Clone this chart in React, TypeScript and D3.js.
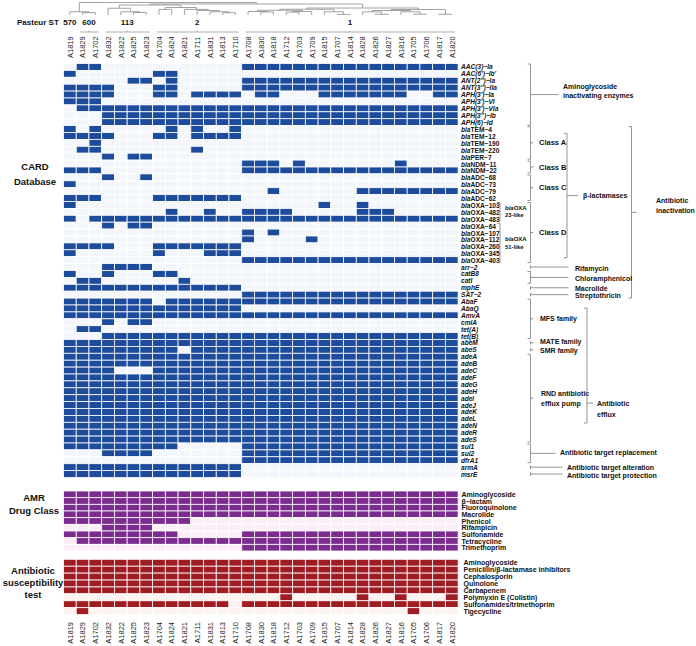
import React from 'react';
import * as d3 from 'd3';

const columns = ['A1819','A1829','A1702','A1832','A1822','A1825','A1823','A1704','A1824','A1821','A1711','A1831','A1813','A1710','A1708','A1830','A1818','A1712','A1703','A1709','A1815','A1707','A1814','A1828','A1826','A1827','A1816','A1705','A1706','A1817','A1820'];

const stLabels = ['570', '600', '113', '2', '1'];
const stFrom = [0, 1, 3, 7, 14];
const stTo = [0, 2, 6, 13, 30];

// dendrogram: [height, child, child] ; leaves are column indices
const dendrogram: any = [10,
  [2.6, 0, [1.9, 1, 2]],
  [8.8,
    [8.0,
      [5.4, 3, [2.6, 4, [2.0, 5, 6]]],
      [6.0, [4.5, 7, 8], [4.5, 9, [3.6, 10, [2.6, 11, [1.8, 12, 13]]]]]
    ],
    [5.6,
      [4.6, [3.8, [2.8, 14, [2.4, 15, 16]], [2.8, [2.3, 17, 18], 19]], [2.6, 20, [0.5, 21, 22]]],
      [4.4, [3.6, [2.5, 23, [0.6, 24, 25]], [2.6, 26, [0.7, 27, 28]]], [0.6, 29, 30]]
    ]
  ]
];

const cardGenes = [
  "AAC(3)−Ia","AAC(6')−Ib'","ANT(2'')−Ia","ANT(3'')−IIa","APH(3')−Ia","APH(3')−VI","APH(3')−VIa","APH(3'')−Ib","APH(6)−Id",
  "blaTEM−4","blaTEM−12","blaTEM−190","blaTEM−220","blaPER−7","blaNDM−11","blaNDM−22","blaADC−68","blaADC−73","blaADC−79","blaADC−62",
  "blaOXA−103","blaOXA−482","blaOXA−483","blaOXA−64","blaOXA−107","blaOXA−112","blaOXA−260","blaOXA−345","blaOXA−403",
  "arr−2","catB8","catI","mphE","SAT−2","AbaF","AbaQ","AmvA","cmlA","tet(A)","tet(B)","abeM","abeS","adeA","adeB","adeC",
  "adeF","adeG","adeH","adeI","adeJ","adeK","adeL","adeN","adeR","adeS","sul1","sul2","dfrA1","armA","msrE"
];

// present columns per gene (column index ranges)
const cardPresent = [
  "1-2,14-30","0,7-8","5-6,8,14-30","0-3,7-8,14-30","0-3,7-8,10-13,15-16,20-26,29-30","0-2","1-30","3-30","3-30",
  "0,2,8,10,13","0-3,7-8,10-13","2","1-2,10","3,5-6","14-16,18,26","0-2,14-30","3,6","0","16,23-30","0-2,7-13",
  "0,20,23","8,11,14-17,23-25","0,2-30","3,5-6","14,16","14,19","0-3,7-13","0,7,11-13","14-30",
  "3-6","0,3,7-8","1-2,9","0-13","14-30","0-6,8-30","0-13","0-30","3,5-6","1-2","3-30","0-30","0-8,10-30","0-30","0-30","0-3,7-30",
  "0-30","0-30","0-30","0-30","0-30","0-30","0-30","0-30","0-30","0-30","0-8,14-30","3-6,14-30","14-30","0-13","0-13"
];

const amrClasses = ["Aminoglycoside","β−lactam","Fluoroquinolone","Macrolide","Phenicol","Rifampicin","Sulfonamide","Tetracycline","Trimethoprim"];
const amrPresent = ["0-30","0-30","0-30","0-30","0-9","3-6","0-8,14-30","1-30","14-30"];

const astDrugs = ["Aminoglycoside","Penicillin/β-lactamase inhibitors","Cephalosporin","Quinolone","Carbapenem","Polymyxin E (Colistin)","Sulfonamides/trimethoprim","Tigecycline"];
const astResistant = ["0-30","0-30","0-30","0-30","0-30","17,23,26,30","0-12,14-30","1,27"];

function parseRanges(s: string): Set<number> {
  const out = new Set<number>();
  s.split(',').forEach(p => {
    const [a, b] = p.split('-').map(Number);
    const e = b === undefined || isNaN(b) ? a : b;
    for (let i = a; i <= e; i++) out.add(i);
  });
  return out;
}

const FONT = 'Liberation Sans, Arial, Helvetica, sans-serif';

function GeneLabel({ name, x, y, size }: { name: string; x: number; y: number; size: number }) {
  if (name.startsWith('bla')) {
    return (
      <text x={x} y={y} fontSize={size} fontWeight="bold" dominantBaseline="central" fontFamily={FONT} fill="#111">
        <tspan fontStyle="italic">bla</tspan><tspan>{name.slice(3)}</tspan>
      </text>
    );
  }
  return (
    <text x={x} y={y} fontSize={size} fontWeight="bold" fontStyle="italic" dominantBaseline="central" fontFamily={FONT} fill="#111">{name}</text>
  );
}

export default function App() {
  const W = 696, H = 646;
  const x = d3.scaleBand<string>().domain(columns).range([63.5, 458.1]);
  const bw = x.bandwidth();
  const cx = (i: number) => (x(columns[i]) as number) + bw / 2;

  const yCard = d3.scaleBand<string>().domain(cardGenes).range([63.5, 477.5]);
  const yAmr = d3.scaleBand<string>().domain(amrClasses).range([491, 551]);
  const yAst = d3.scaleBand<string>().domain(astDrugs).range([559.3, 614.6]);

  const leafY = 15;
  const hY = d3.scaleLinear().domain([0, 10]).range([leafY, 2.5]);

  const segs: { x1: number; x2: number; y1: number; y2: number }[] = [];
  const lay = (node: any): { x: number; y: number } => {
    if (typeof node === 'number') return { x: cx(node), y: leafY };
    const [h, ...kids] = node;
    const pts = kids.map(lay);
    const yy = hY(h);
    segs.push({ x1: pts[0].x, x2: pts[pts.length - 1].x, y1: yy, y2: yy });
    pts.forEach((p: any) => segs.push({ x1: p.x, x2: p.x, y1: yy, y2: p.y }));
    return { x: (pts[0].x + pts[pts.length - 1].x) / 2, y: yy };
  };
  lay(dendrogram);

  const heat = (rows: string[], present: string[], yS: d3.ScaleBand<string>, on: string, off: string, key: string) => {
    const bh = yS.bandwidth();
    const cells: JSX.Element[] = [];
    rows.forEach((r, ri) => {
      const set = parseRanges(present[ri]);
      columns.forEach((c, ci) => {
        cells.push(
          <rect key={`${key}-${ri}-${ci}`} x={x(c)} y={yS(r)} width={bw} height={bh}
            fill={set.has(ci) ? on : off} stroke="#ffffff" strokeWidth={0.8} />
        );
      });
    });
    return cells;
  };

  const cTop = (i: number) => yCard(cardGenes[i]) as number;
  const cBot = (i: number) => (yCard(cardGenes[i]) as number) + yCard.bandwidth();
  const cMid = (a: number, b: number) => (cTop(a) + cBot(b)) / 2;

  const lineCol = '#7a7a7a';
  const annTxt = { fontFamily: FONT, fontWeight: 'bold' as const, fontSize: 7, fill: '#111' };

  const bracket = (k: string, bx: number, y1: number, y2: number, tick: number, tickY?: number) => {
    const ym = tickY ?? (y1 + y2) / 2;
    return (
      <path key={k} d={`M${bx - 3},${y1} H${bx} V${y2} H${bx - 3} M${bx},${ym} H${bx + tick}`}
        fill="none" stroke={lineCol} strokeWidth={0.8} />
    );
  };
  const single = (k: string, bx: number, y: number, len: number) => (
    <path key={k} d={`M${bx},${y - 1.8} V${y + 1.8} M${bx},${y} H${bx + len}`} fill="none" stroke={lineCol} strokeWidth={0.8} />
  );

  const BX = 530.5;
  const groups1: [string, number, number][] = [
    ['Class A', 9, 13], ['Class B', 14, 15], ['Class C', 16, 19], ['Class D', 20, 28],
  ];

  return (
    <svg width={W} height={H} style={{ position: 'absolute', left: 0, top: 0, background: '#fff' }} fontFamily={FONT}>
      <rect x={0} y={0} width={W} height={H} fill="#fff" />
      <g stroke="#8c8c8c" strokeWidth={0.8} fill="none">
        {segs.map((s, i) => <line key={i} x1={s.x1} x2={s.x2} y1={s.y1} y2={s.y2} />)}
      </g>

      <text x={17} y={25} fontSize={8} fontWeight="bold" fill="#111">Pasteur ST</text>
      {stLabels.map((s, i) => {
        const xa = x(columns[stFrom[i]]) as number;
        const xb = (x(columns[stTo[i]]) as number) + bw;
        return (
          <g key={s}>
            <text x={(xa + xb) / 2} y={24.5} fontSize={8} fontWeight="bold" textAnchor="middle" fill="#111">{s}</text>
            {stTo[i] > stFrom[i] && (
              <g stroke="#9a9a9a" strokeWidth={0.8}>
                <line x1={xa + 4} x2={xb - 3} y1={32} y2={32} />
                <line x1={(xa + xb) / 2} x2={(xa + xb) / 2} y1={32} y2={30.5} />
              </g>
            )}
          </g>
        );
      })}

      {columns.map((c, i) => (
        <text key={'t' + c} transform={`translate(${cx(i) + 2.8},58) rotate(-90)`} fontSize={7.5} fill="#222">{c}</text>
      ))}
      {columns.map((c, i) => (
        <text key={'b' + c} transform={`translate(${cx(i) + 2.8},622) rotate(-90)`} fontSize={7.5} textAnchor="end" fill="#222">{c}</text>
      ))}

      {heat(cardGenes, cardPresent, yCard, '#1d4c9c', '#f3f7fc', 'card')}
      {heat(amrClasses, amrPresent, yAmr, '#7b2c8e', '#fbeef6', 'amr')}
      {heat(astDrugs, astResistant, yAst, '#9e1c22', '#fdf3f1', 'ast')}

      {cardGenes.map(g => (
        <GeneLabel key={'l' + g} name={g} x={461} y={(yCard(g) as number) + yCard.bandwidth() / 2} size={6.6} />
      ))}
      {amrClasses.map(g => (
        <text key={'la' + g} x={461.5} y={(yAmr(g) as number) + yAmr.bandwidth() / 2} fontSize={7} fontWeight="bold" dominantBaseline="central" fill="#111">{g}</text>
      ))}
      {astDrugs.map(g => (
        <text key={'ls' + g} x={463.5} y={(yAst(g) as number) + yAst.bandwidth() / 2} fontSize={7} fontWeight="bold" dominantBaseline="central" fill="#111">{g}</text>
      ))}

      <g fontSize={9.5} fontWeight="bold" textAnchor="middle" fill="#111">
        <text x={35} y={166} dominantBaseline="central">CARD</text>
        <text x={35} y={181} dominantBaseline="central">Database</text>
        <text x={34} y={497} dominantBaseline="central">AMR</text>
        <text x={34} y={510} dominantBaseline="central">Drug Class</text>
        <text x={33} y={570} dominantBaseline="central">Antibiotic</text>
        <text x={33} y={582} dominantBaseline="central">susceptibility</text>
        <text x={33} y={594} dominantBaseline="central">test</text>
      </g>

      {bracket('amino', BX, cTop(0) + 0.5, cBot(8) - 0.5, 28)}
      <text {...annTxt} x={563} y={cMid(0, 8) - 8} dominantBaseline="central">Aminoglycoside</text>
      <text {...annTxt} x={563} y={cMid(0, 8) + 1} dominantBaseline="central">inactivating enzymes</text>

      {groups1.map(([lab, a, b]) => (
        <g key={lab}>
          {bracket('g' + lab, BX, cTop(a) + 1, cBot(b) - 1, 3)}
          <text {...annTxt} fontSize={7.5} x={539} y={cMid(a, b)} dominantBaseline="central">{lab}</text>
        </g>
      ))}

      {bracket('ox23', 500, cTop(20) + 1, cBot(22) - 1, 0)}
      {bracket('ox51', 500, cTop(23) + 1, cBot(28) - 1, 0)}
      <text {...annTxt} fontSize={6} x={505} y={cMid(20, 22) - 3.6} dominantBaseline="central"><tspan fontStyle="italic">bla</tspan>OXA</text>
      <text {...annTxt} fontSize={6} x={505} y={cMid(20, 22) + 3.6} dominantBaseline="central">23-like</text>
      <text {...annTxt} fontSize={6} x={505} y={cMid(23, 28) - 3.6} dominantBaseline="central"><tspan fontStyle="italic">bla</tspan>OXA</text>
      <text {...annTxt} fontSize={6} x={505} y={cMid(23, 28) + 3.6} dominantBaseline="central">51-like</text>

      {bracket('blac', 567, cTop(9) + 8, cBot(28) - 6, 11)}
      <text {...annTxt} x={583} y={(cTop(9) + 8 + cBot(28) - 6) / 2} dominantBaseline="central">β-lactamases</text>

      {bracket('inact', 631.5, cTop(9) + 1, cBot(33), 5)}
      <text {...annTxt} x={656} y={(cTop(9) + cBot(33)) / 2 - 11} dominantBaseline="central">Antibiotic</text>
      <text {...annTxt} x={656} y={(cTop(9) + cBot(33)) / 2 - 1} dominantBaseline="central">inactivation</text>

      {single('rif', BX, cMid(29, 29), 38)}
      <text {...annTxt} x={575} y={cMid(29, 29) + 1} dominantBaseline="central">Rifamycin</text>
      {bracket('chl', BX, cTop(30) + 1, cBot(31) - 1, 38)}
      <text {...annTxt} x={575} y={cMid(30, 31) + 1} dominantBaseline="central">Chloramphenicol</text>
      {single('mac', BX, cMid(32, 32), 38)}
      <text {...annTxt} x={575} y={cMid(32, 32) + 1} dominantBaseline="central">Macrolide</text>
      {single('str', BX, cMid(33, 33), 38)}
      <text {...annTxt} x={575} y={cMid(33, 33) + 1} dominantBaseline="central">Streptothricin</text>

      {bracket('mfs', BX, cTop(34) + 1, cBot(39) - 1, 3)}
      <text {...annTxt} x={540} y={cMid(34, 39)} dominantBaseline="central">MFS family</text>
      {single('mate', BX, cMid(40, 40), 3)}
      <text {...annTxt} x={540} y={cMid(40, 40) - 1} dominantBaseline="central">MATE family</text>
      {single('smr', BX, cMid(41, 41), 3)}
      <text {...annTxt} x={540} y={cMid(41, 41) + 1} dominantBaseline="central">SMR family</text>
      {bracket('rnd', BX, cTop(42) + 1, cBot(54) - 1, 3)}
      <text {...annTxt} x={541} y={cMid(42, 54) - 5} dominantBaseline="central">RND antibiotic</text>
      <text {...annTxt} x={541} y={cMid(42, 54) + 5} dominantBaseline="central">efflux pump</text>

      {bracket('efflux', 587, cTop(34) + 10, cBot(54) - 20, 6, cBot(54) - 40)}
      <text {...annTxt} x={597} y={cBot(54) - 40} dominantBaseline="central">Antibiotic</text>
      <text {...annTxt} x={597} y={cBot(54) - 29} dominantBaseline="central">efflux</text>

      {bracket('repl', BX, cTop(55) + 1, cBot(57) - 1, 25)}
      <text {...annTxt} x={560} y={cMid(55, 57) - 1} dominantBaseline="central">Antibiotic target replacement</text>
      {single('alt', BX, cMid(58, 58), 32)}
      <text {...annTxt} x={567} y={cMid(58, 58)} dominantBaseline="central">Antibiotic target alteration</text>
      {single('prot', BX, cMid(59, 59), 32)}
      <text {...annTxt} x={567} y={cMid(59, 59) + 1.5} dominantBaseline="central">Antibiotic target protection</text>
    </svg>
  );
}
